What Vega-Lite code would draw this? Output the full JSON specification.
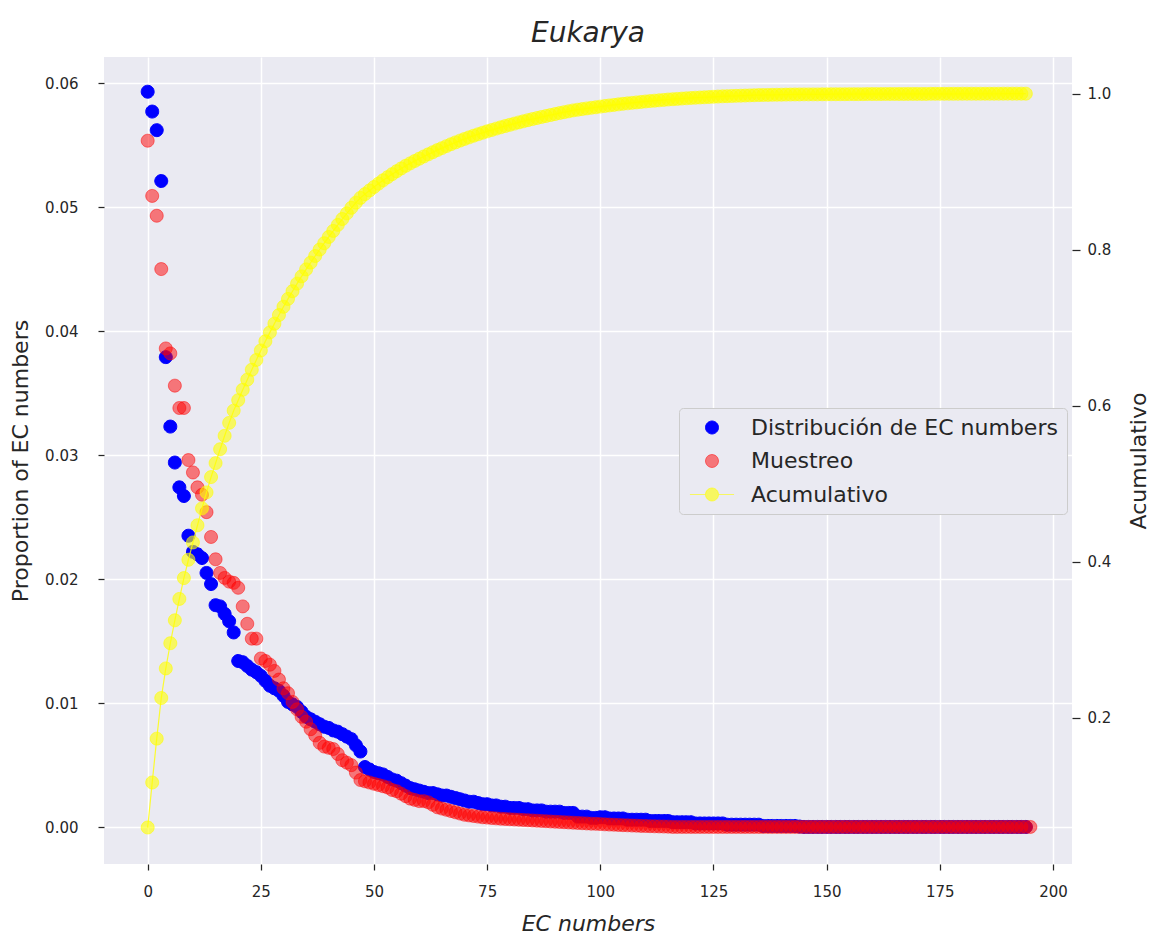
{
  "$schema": "https://vega.github.io/schema/vega-lite/v6.json",
  "width": 968,
  "height": 807,
  "autosize": {"type": "none"},
  "padding": {"left": 104, "top": 57, "right": 81, "bottom": 70},
  "background": "white",
  "title": {"text": "Eukarya", "font": "DejaVu Sans", "fontSize": 28, "fontStyle": "italic", "fontWeight": "normal", "color": "#262626", "anchor": "middle", "frame": "group", "offset": -13, "baseline": "alphabetic"},
  "data": {"values": [
    {"x":0,"b":0.0593,"r":0.05535,"c":0.0593},{"x":1,"b":0.0577,"r":0.0509,"c":0.1170},{"x":2,"b":0.0562,"r":0.0493,"c":0.1732},{"x":3,"b":0.0521,"r":0.0450,"c":0.2253},{"x":4,"b":0.0379,"r":0.0386,"c":0.2632},
    {"x":5,"b":0.0323,"r":0.0382,"c":0.2955},{"x":6,"b":0.0294,"r":0.0356,"c":0.3249},{"x":7,"b":0.0274,"r":0.0338,"c":0.3523},{"x":8,"b":0.0267,"r":0.0338,"c":0.3790},{"x":9,"b":0.0235,"r":0.0296,"c":0.4025},
    {"x":10,"b":0.0222,"r":0.0286,"c":0.4247},{"x":11,"b":0.0220,"r":0.0274,"c":0.4467},{"x":12,"b":0.0217,"r":0.0268,"c":0.4684},{"x":13,"b":0.0205,"r":0.0254,"c":0.4889},{"x":14,"b":0.0196,"r":0.0234,"c":0.5085},
    {"x":15,"b":0.0179,"r":0.0216,"c":0.5264},{"x":16,"b":0.0178,"r":0.0205,"c":0.5442},{"x":17,"b":0.0172,"r":0.0201,"c":0.5614},{"x":18,"b":0.0166,"r":0.0198,"c":0.5780},{"x":19,"b":0.0157,"r":0.0197,"c":0.5937},
    {"x":20,"b":0.0134,"r":0.0193,"c":0.6071},{"x":21,"b":0.0133,"r":0.0178,"c":0.6204},{"x":22,"b":0.0130,"r":0.0164,"c":0.6334},{"x":23,"b":0.0127,"r":0.0152,"c":0.6461},{"x":24,"b":0.0125,"r":0.0152,"c":0.6586},
    {"x":25,"b":0.0122,"r":0.0136,"c":0.6708},{"x":26,"b":0.0118,"r":0.0134,"c":0.6826},{"x":27,"b":0.0114,"r":0.0131,"c":0.6940},{"x":28,"b":0.0112,"r":0.0126,"c":0.7052},{"x":29,"b":0.0110,"r":0.0119,"c":0.7162},
    {"x":30,"b":0.0106,"r":0.0112,"c":0.7268},{"x":31,"b":0.0101,"r":0.0108,"c":0.7369},{"x":32,"b":0.0099,"r":0.0101,"c":0.7468},{"x":33,"b":0.0097,"r":0.0095,"c":0.7565},{"x":34,"b":0.0093,"r":0.0089,"c":0.7658},
    {"x":35,"b":0.0089,"r":0.0085,"c":0.7747},{"x":36,"b":0.0087,"r":0.0079,"c":0.7834},{"x":37,"b":0.0085,"r":0.0074,"c":0.7919},{"x":38,"b":0.0083,"r":0.0068,"c":0.8002},{"x":39,"b":0.0081,"r":0.0065,"c":0.8083},
    {"x":40,"b":0.0080,"r":0.0064,"c":0.8163},{"x":41,"b":0.0078,"r":0.0063,"c":0.8241},{"x":42,"b":0.0077,"r":0.0059,"c":0.8318},{"x":43,"b":0.0075,"r":0.0054,"c":0.8393},{"x":44,"b":0.0073,"r":0.0052,"c":0.8466},
    {"x":45,"b":0.0071,"r":0.0050,"c":0.8537},{"x":46,"b":0.0066,"r":0.0044,"c":0.8603},{"x":47,"b":0.0061,"r":0.0038,"c":0.8664},{"x":48,"b":0.00485,"r":0.0037,"c":0.87125},{"x":49,"b":0.00465,"r":0.0036,"c":0.8759},
    {"x":50,"b":0.00445,"r":0.0035,"c":0.88035},{"x":51,"b":0.00435,"r":0.0034,"c":0.8847},{"x":52,"b":0.00425,"r":0.0033,"c":0.88895},{"x":53,"b":0.00405,"r":0.0032,"c":0.8930},{"x":54,"b":0.00385,"r":0.0030,"c":0.89685},
    {"x":55,"b":0.00375,"r":0.0029,"c":0.9006},{"x":56,"b":0.00355,"r":0.0027,"c":0.90415},{"x":57,"b":0.00335,"r":0.0025,"c":0.9075},{"x":58,"b":0.00315,"r":0.0023,"c":0.91065},{"x":59,"b":0.00305,"r":0.0022,"c":0.9137},
    {"x":60,"b":0.00295,"r":0.0021,"c":0.91665},{"x":61,"b":0.00285,"r":0.0021,"c":0.9195},{"x":62,"b":0.00275,"r":0.0020,"c":0.92225},{"x":63,"b":0.00275,"r":0.0018,"c":0.9250},{"x":64,"b":0.00265,"r":0.0016,"c":0.92765},
    {"x":65,"b":0.00255,"r":0.0015,"c":0.9302},{"x":66,"b":0.00255,"r":0.0014,"c":0.93275},{"x":67,"b":0.00245,"r":0.0013,"c":0.9352},{"x":68,"b":0.00235,"r":0.0012,"c":0.93755},{"x":69,"b":0.00225,"r":0.0011,"c":0.9398},
    {"x":70,"b":0.00215,"r":0.0010,"c":0.94195},{"x":71,"b":0.00205,"r":0.00095,"c":0.9440},{"x":72,"b":0.00205,"r":0.0009,"c":0.94605},{"x":73,"b":0.00195,"r":0.00085,"c":0.9480},{"x":74,"b":0.00185,"r":0.0008,"c":0.94985},
    {"x":75,"b":0.00185,"r":0.00077,"c":0.9517},{"x":76,"b":0.00175,"r":0.00074,"c":0.95345},{"x":77,"b":0.00175,"r":0.00071,"c":0.9552},{"x":78,"b":0.00165,"r":0.00068,"c":0.95685},{"x":79,"b":0.00165,"r":0.00066,"c":0.9585},
    {"x":80,"b":0.00155,"r":0.00064,"c":0.96005},{"x":81,"b":0.00155,"r":0.00062,"c":0.9616},{"x":82,"b":0.00155,"r":0.0006,"c":0.96315},{"x":83,"b":0.00145,"r":0.00058,"c":0.9646},{"x":84,"b":0.00145,"r":0.00056,"c":0.96605},
    {"x":85,"b":0.00135,"r":0.00054,"c":0.9674},{"x":86,"b":0.00135,"r":0.00052,"c":0.96875},{"x":87,"b":0.00135,"r":0.0005,"c":0.9701},{"x":88,"b":0.00125,"r":0.00048,"c":0.97135},{"x":89,"b":0.00125,"r":0.00046,"c":0.9726},
    {"x":90,"b":0.00125,"r":0.00044,"c":0.97385},{"x":91,"b":0.00125,"r":0.00042,"c":0.9751},{"x":92,"b":0.00115,"r":0.0004,"c":0.97625},{"x":93,"b":0.00115,"r":0.00038,"c":0.9774},{"x":94,"b":0.00115,"r":0.00036,"c":0.97855},
    {"x":95,"b":0.00085,"r":0.00034,"c":0.9794},{"x":96,"b":0.00085,"r":0.00032,"c":0.98025},{"x":97,"b":0.00085,"r":0.0003,"c":0.9811},{"x":98,"b":0.00075,"r":0.00028,"c":0.98185},{"x":99,"b":0.00075,"r":0.00027,"c":0.9826},
    {"x":100,"b":0.0008,"r":0.00025,"c":0.9834},{"x":101,"b":0.0008,"r":0.00023,"c":0.9842},{"x":102,"b":0.0007,"r":0.00021,"c":0.9849},{"x":103,"b":0.0007,"r":0.0002,"c":0.9856},{"x":104,"b":0.0007,"r":0.00018,"c":0.9863},
    {"x":105,"b":0.0007,"r":0.00016,"c":0.9870},{"x":106,"b":0.0006,"r":0.00015,"c":0.9876},{"x":107,"b":0.0006,"r":0.00013,"c":0.9882},{"x":108,"b":0.0006,"r":0.00012,"c":0.9888},{"x":109,"b":0.0006,"r":0.0001,"c":0.9894},
    {"x":110,"b":0.0006,"r":0.00009,"c":0.9900},{"x":111,"b":0.0005,"r":0.00008,"c":0.9905},{"x":112,"b":0.0005,"r":0.00007,"c":0.9910},{"x":113,"b":0.0005,"r":0.00006,"c":0.9915},{"x":114,"b":0.0005,"r":0.00005,"c":0.9920},
    {"x":115,"b":0.0005,"r":0.00004,"c":0.9925},{"x":116,"b":0.0004,"r":0.00002,"c":0.9929},{"x":117,"b":0.0004,"r":0.00002,"c":0.9933},{"x":118,"b":0.0004,"r":0.00002,"c":0.9937},{"x":119,"b":0.0004,"r":0.00002,"c":0.9941},
    {"x":120,"b":0.0004,"r":0.00002,"c":0.9945},{"x":121,"b":0.0003,"r":0.00002,"c":0.9948},{"x":122,"b":0.0003,"r":0.00002,"c":0.9951},{"x":123,"b":0.0003,"r":0.00002,"c":0.9954},{"x":124,"b":0.0003,"r":0.00002,"c":0.9957},
    {"x":125,"b":0.0003,"r":0.00002,"c":0.9960},{"x":126,"b":0.0003,"r":0.00002,"c":0.9963},{"x":127,"b":0.0003,"r":0.00002,"c":0.9966},{"x":128,"b":0.0002,"r":0.00002,"c":0.9968},{"x":129,"b":0.0002,"r":0.00002,"c":0.9970},
    {"x":130,"b":0.0002,"r":0.00002,"c":0.9972},{"x":131,"b":0.0002,"r":0.00002,"c":0.9974},{"x":132,"b":0.0002,"r":0.00002,"c":0.9976},{"x":133,"b":0.0002,"r":0.00002,"c":0.9978},{"x":134,"b":0.0002,"r":0.00002,"c":0.9980},
    {"x":135,"b":0.0002,"r":0.00002,"c":0.9982},{"x":136,"b":0.0001,"r":0.00002,"c":0.9983},{"x":137,"b":0.0001,"r":0.00002,"c":0.9984},{"x":138,"b":0.0001,"r":0.00002,"c":0.9985},{"x":139,"b":0.0001,"r":0.00002,"c":0.9986},
    {"x":140,"b":0.0001,"r":0.00002,"c":0.9987},{"x":141,"b":0.0001,"r":0.00002,"c":0.9988},{"x":142,"b":0.0001,"r":0.00002,"c":0.9989},{"x":143,"b":0.0001,"r":0.00002,"c":0.9990},{"x":144,"b":0.00005,"r":0.00002,"c":0.99905},
    {"x":145,"b":0.00002,"r":0.00002,"c":0.9991},{"x":146,"b":0.00002,"r":0.00002,"c":0.9991},{"x":147,"b":0.00002,"r":0.00002,"c":0.9991},{"x":148,"b":0.00002,"r":0.00002,"c":0.9991},{"x":149,"b":0.00002,"r":0.00002,"c":0.9992},
    {"x":150,"b":0.00002,"r":0.00002,"c":0.9992},{"x":151,"b":0.00002,"r":0.00002,"c":0.9993},{"x":152,"b":0.00002,"r":0.00002,"c":0.9993},{"x":153,"b":0.00002,"r":0.00002,"c":0.9993},{"x":154,"b":0.00002,"r":0.00002,"c":0.9993},
    {"x":155,"b":0.00002,"r":0.00002,"c":0.9994},{"x":156,"b":0.00002,"r":0.00002,"c":0.9994},{"x":157,"b":0.00002,"r":0.00002,"c":0.9994},{"x":158,"b":0.00002,"r":0.00002,"c":0.9994},{"x":159,"b":0.00002,"r":0.00002,"c":0.9995},
    {"x":160,"b":0.00002,"r":0.00002,"c":0.9995},{"x":161,"b":0.00002,"r":0.00002,"c":0.9995},{"x":162,"b":0.00002,"r":0.00002,"c":0.9995},{"x":163,"b":0.00002,"r":0.00002,"c":0.9996},{"x":164,"b":0.00002,"r":0.00002,"c":0.9996},
    {"x":165,"b":0.00002,"r":0.00002,"c":0.9996},{"x":166,"b":0.00002,"r":0.00002,"c":0.9996},{"x":167,"b":0.00002,"r":0.00002,"c":0.9996},{"x":168,"b":0.00002,"r":0.00002,"c":0.9997},{"x":169,"b":0.00002,"r":0.00002,"c":0.9997},
    {"x":170,"b":0.00002,"r":0.00002,"c":0.9997},{"x":171,"b":0.00002,"r":0.00002,"c":0.9997},{"x":172,"b":0.00002,"r":0.00002,"c":0.9997},{"x":173,"b":0.00002,"r":0.00002,"c":0.9998},{"x":174,"b":0.00002,"r":0.00002,"c":0.9998},
    {"x":175,"b":0.00002,"r":0.00002,"c":0.9998},{"x":176,"b":0.00002,"r":0.00002,"c":0.9998},{"x":177,"b":0.00002,"r":0.00002,"c":0.9998},{"x":178,"b":0.00002,"r":0.00002,"c":0.9998},{"x":179,"b":0.00002,"r":0.00002,"c":0.9998},
    {"x":180,"b":0.00002,"r":0.00002,"c":0.9999},{"x":181,"b":0.00002,"r":0.00002,"c":0.9999},{"x":182,"b":0.00002,"r":0.00002,"c":0.9999},{"x":183,"b":0.00002,"r":0.00002,"c":0.9999},{"x":184,"b":0.00002,"r":0.00002,"c":0.9999},
    {"x":185,"b":0.00002,"r":0.00002,"c":0.9999},{"x":186,"b":0.00002,"r":0.00002,"c":0.9999},{"x":187,"b":0.00002,"r":0.00002,"c":0.9999},{"x":188,"b":0.00002,"r":0.00002,"c":0.9999},{"x":189,"b":0.00002,"r":0.00002,"c":1.0},
    {"x":190,"b":0.00002,"r":0.00002,"c":1.0},{"x":191,"b":0.00002,"r":0.00002,"c":1.0},{"x":192,"b":0.00002,"r":0.00002,"c":1.0},{"x":193,"b":0.00002,"r":0.00002,"c":1.0},{"x":194,"b":0.00002,"r":0.00002,"c":1.0},
    {"x":195,"r":0.00002}
  ]},
  "encoding": {
    "x": {"field": "x", "type": "quantitative",
      "scale": {"domain": [-9.65, 204.2], "nice": false, "zero": false},
      "axis": {"values": [0, 25, 50, 75, 100, 125, 150, 175, 200], "title": "EC numbers", "titleFontStyle": "italic", "labelPadding": 14, "titlePadding": 14}}
  },
  "layer": [
    {
      "transform": [{"fold": ["b", "r"], "as": ["s", "v"]}],
      "mark": {"type": "point", "filled": true, "size": 324, "strokeWidth": 1, "opacity": 1},
      "encoding": {
        "y": {"field": "v", "type": "quantitative",
          "scale": {"domain": [-0.00297, 0.0621], "nice": false, "zero": false},
          "axis": {"orient": "left", "values": [0, 0.01, 0.02, 0.03, 0.04, 0.05, 0.06], "format": ".2f", "title": "Proportion of EC numbers", "labelPadding": 20, "titlePadding": 12}},
        "order": {"field": "s", "type": "nominal", "sort": "ascending"},
        "fill": {"field": "s", "type": "nominal", "title": null,
          "scale": {"domain": ["b", "r", "c"], "range": ["#0000ff", "rgba(255,0,0,0.5)", "rgba(255,255,0,0.6)"]},
          "legend": {"labelExpr": "datum.value == 'b' ? 'Distribución de EC numbers' : datum.value == 'r' ? 'Muestreo' : 'Acumulativo'"}},
        "stroke": {"field": "s", "type": "nominal", "title": null,
          "scale": {"domain": ["b", "r", "c"], "range": ["#0000ff", "rgba(255,0,0,0.5)", "rgba(255,255,0,0.6)"]}},
        "shape": {"field": "s", "type": "nominal", "title": null,
          "scale": {"domain": ["b", "r", "c"], "range": [
            "M0.72,0A0.72,0.72,0,1,1,-0.72,0A0.72,0.72,0,1,1,0.72,0Z",
            "M0.72,0A0.72,0.72,0,1,1,-0.72,0A0.72,0.72,0,1,1,0.72,0Z",
            "M-2.45,0L-0.72,0M0.72,0L2.45,0M0.72,0A0.72,0.72,0,1,1,-0.72,0A0.72,0.72,0,1,1,0.72,0Z"]}}
      }
    },
    {
      "transform": [{"fold": ["c"], "as": ["s", "v"]}, {"filter": "isValid(datum.v)"}],
      "encoding": {
        "y": {"field": "v", "type": "quantitative",
          "scale": {"domain": [0.0125, 1.047], "nice": false, "zero": false},
          "axis": {"orient": "right", "values": [0.2, 0.4, 0.6, 0.8, 1.0], "format": ".1f", "title": "Acumulativo", "titleAngle": 270, "tickSize": 8, "labelPadding": 7, "titlePadding": 40}}
      },
      "layer": [
        {"mark": {"type": "line", "color": "#ffff00", "strokeWidth": 1.2, "opacity": 0.8}},
        {"mark": {"type": "point", "filled": true, "size": 324, "strokeWidth": 1, "opacity": 1, "shape": "M0.72,0A0.72,0.72,0,1,1,-0.72,0A0.72,0.72,0,1,1,0.72,0Z"},
         "encoding": {
           "fill": {"field": "s", "type": "nominal", "title": null},
           "stroke": {"field": "s", "type": "nominal", "title": null}
         }}
      ]
    }
  ],
  "resolve": {"scale": {"y": "independent"}},
  "config": {
    "font": "DejaVu Sans",
    "view": {"fill": "#EAEAF2", "stroke": null},
    "axis": {"labelFont": "DejaVu Sans", "labelFontSize": 15, "labelColor": "#262626", "titleFont": "DejaVu Sans", "titleFontSize": 22, "titleFontWeight": "normal", "titleColor": "#262626", "gridColor": "#ffffff", "gridWidth": 1.5, "gridOpacity": 1, "domain": false, "tickColor": "#262626", "tickSize": 6, "tickWidth": 1.25},
    "legend": {"orient": "none", "legendX": 575, "legendY": 351, "fillColor": "#EAEAF2", "strokeColor": "#cccccc", "cornerRadius": 4, "padding": 8.5, "rowPadding": 11.5, "labelFont": "DejaVu Sans", "labelFontSize": 22, "labelColor": "#262626", "symbolSize": 324, "symbolStrokeWidth": 1, "symbolOffset": 13.5, "labelOffset": 28, "labelLimit": 500, "symbolOpacity": 1}
  }
}
